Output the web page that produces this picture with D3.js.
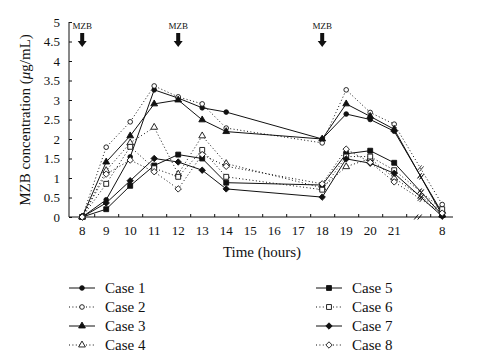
<!DOCTYPE html>
<html>
<head>
<meta charset="utf-8">
<script src="https://cdn.jsdelivr.net/npm/d3@7"></script>
<style>
  body { margin: 0; background: #fff; }
  svg text { font-family: "Liberation Serif", "DejaVu Serif", serif; fill: #111; }
</style>
</head>
<body>
<div id="chart"></div>
<script>
// hour labels and their positions on the axis (gap before the next-morning 8)
const tickLabels = ["8", "9", "10", "11", "12", "13", "14", "15", "16", "17", "18", "19", "20", "21", "8"];
const tickPos = [0, 1, 2, 3, 4, 5, 6, 7, 8, 9, 10, 11, 12, 13, 15];
const samplePos = [0, 1, 2, 3, 4, 5, 6, 10, 11, 12, 13, 15];
const dosePos = [0, 4, 10];

const case1 = [0, 0.44, 1.54, 3.26, 3.05, 2.8, 2.69, 2.0, 2.64, 2.5, 2.2, 0.1];
const case2 = [0, 1.79, 2.44, 3.36, 3.08, 2.9, 2.28, 1.9, 3.26, 2.68, 2.38, 0.32];
const case3 = [0, 1.41, 2.08, 2.9, 3.0, 2.49, 2.19, 2.0, 2.9, 2.58, 2.25, 0.05];
const case4 = [0, 1.19, 1.9, 2.3, 1.1, 2.08, 1.37, 0.75, 1.29, 1.5, 1.0, 0.15];
const case5 = [0, 0.2, 0.8, 1.32, 1.6, 1.5, 0.88, 0.82, 1.62, 1.7, 1.39, 0.05];
const case6 = [0, 0.85, 1.8, 1.25, 1.03, 1.72, 1.03, 0.7, 1.55, 1.55, 1.2, 0.2];
const case7 = [0, 0.36, 0.93, 1.5, 1.41, 1.2, 0.72, 0.51, 1.49, 1.38, 1.12, 0.02];
const case8 = [0, 1.1, 1.46, 1.16, 0.72, 1.6, 1.3, 0.85, 1.74, 1.4, 0.9, 0.1];

const caseNames = ["Case 1", "Case 2", "Case 3", "Case 4", "Case 5", "Case 6", "Case 7", "Case 8"];
const caseValues = [case1, case2, case3, case4, case5, case6, case7, case8];
const yTicks = [0, 0.5, 1, 1.5, 2, 2.5, 3, 3.5, 4, 4.5, 5];

const width = 478, height = 361;
const ink = "#111";

const svg = d3.select("#chart").append("svg")
  .attr("width", width)
  .attr("height", height);

const x = d3.scaleLinear().domain([-0.55, 15.45]).range([69, 453]);
const y = d3.scaleLinear().domain([0, 5]).range([217, 22]);

// marker shapes per case
function markerPath(i) {
  const kind = Math.floor(i / 2);
  if (kind === 0) return d3.symbol(d3.symbolCircle, 17)();
  if (kind === 1) return d3.symbol(d3.symbolTriangle, 20)();
  if (kind === 2) return d3.symbol(d3.symbolSquare, 24)();
  return "M0,-3.2L3.2,0L0,3.2L-3.2,0Z";
}
const filled = (i) => i % 2 === 0;

// axes
const xAxis = d3.axisBottom(x)
  .tickValues(d3.range(0.5, 15, 1))
  .tickSize(-3)
  .tickFormat("");
const gx = svg.append("g")
  .attr("transform", `translate(0,${y(0)})`)
  .call(xAxis);
gx.select(".domain").attr("d", `M${x(-0.55)},0H${x(15.45)}`);
gx.selectAll("line, path").attr("stroke", ink);

svg.append("g").selectAll("text")
  .data(tickPos)
  .join("text")
  .attr("x", (d) => x(d))
  .attr("y", 235)
  .attr("text-anchor", "middle")
  .attr("font-size", 13)
  .text((d, i) => tickLabels[i]);

// axis break
svg.append("g").selectAll("line")
  .data([-2, 1.5])
  .join("line")
  .attr("x1", (d) => x(14) + d - 2)
  .attr("y1", y(0) + 2.5)
  .attr("x2", (d) => x(14) + d + 2)
  .attr("y2", y(0) - 2.5)
  .attr("stroke", ink)
  .attr("stroke-width", 1);

const yAxis = d3.axisLeft(y)
  .tickValues(yTicks)
  .tickSize(-3)
  .tickPadding(9)
  .tickFormat((d) => d);
const gy = svg.append("g")
  .attr("transform", `translate(${x(-0.55)},0)`)
  .call(yAxis);
gy.select(".domain").attr("d", `M0,${y(0)}V${y(5)}`);
gy.selectAll("line, path").attr("stroke", ink);
gy.selectAll("text")
  .attr("font-size", 13)
  .attr("fill", ink)
  .style("font-family", "Liberation Serif, serif");

// axis titles
const yTitle = svg.append("text")
  .attr("transform", `translate(30,120) rotate(-90)`)
  .attr("text-anchor", "middle")
  .attr("font-size", 15);
yTitle.append("tspan").text("MZB concentration (");
yTitle.append("tspan").attr("font-style", "italic").text("μ");
yTitle.append("tspan").text("g/mL)");

svg.append("text")
  .attr("x", 262)
  .attr("y", 257)
  .attr("text-anchor", "middle")
  .attr("font-size", 15)
  .text("Time (hours)");

// dose markers
const dose = svg.append("g").selectAll("g")
  .data(dosePos)
  .join("g")
  .attr("transform", (d) => `translate(${x(d)},0)`);
dose.append("text")
  .attr("y", 29)
  .attr("text-anchor", "middle")
  .attr("font-size", 9)
  .text("MZB");
dose.append("path")
  .attr("d", "M-2,33H2V41H4.5L0,47L-4.5,41H-2Z")
  .attr("fill", ink);

// series lines
const line = d3.line()
  .x((d) => x(d[0]))
  .y((d) => y(d[1]));

const series = caseValues.map((vals, i) => ({
  name: caseNames[i],
  idx: i,
  points: vals.map((v, j) => [samplePos[j], v])
}));

svg.append("g").selectAll("path")
  .data(series)
  .join("path")
  .attr("d", (d) => line(d.points))
  .attr("fill", "none")
  .attr("stroke", ink)
  .attr("stroke-width", 1)
  .attr("stroke-dasharray", (d) => (filled(d.idx) ? null : "1,2.4"));

// little break slashes on each line between 21 and the next morning
svg.append("g").selectAll("path")
  .data(series)
  .join("path")
  .attr("d", (d) => {
    const a = d.points[10], b = d.points[11];
    const t = 0.55;
    const px = x(a[0] + (b[0] - a[0]) * t);
    const py = y(a[1] + (b[1] - a[1]) * t);
    return `M${px - 3},${py + 2}L${px + 1},${py - 3}M${px - 1},${py + 3}L${px + 3},${py - 2}`;
  })
  .attr("stroke", ink)
  .attr("stroke-width", 0.8)
  .attr("fill", "none");

// markers
svg.append("g").selectAll("g")
  .data(series)
  .join("g")
  .each(function (s) {
    d3.select(this).selectAll("path")
      .data(s.points)
      .join("path")
      .attr("transform", (d) => `translate(${x(d[0])},${y(d[1])})`)
      .attr("d", markerPath(s.idx))
      .attr("fill", filled(s.idx) ? ink : "#fff")
      .attr("stroke", ink)
      .attr("stroke-width", 0.9);
  });

// legend
const legend = svg.append("g").selectAll("g")
  .data(series)
  .join("g")
  .attr("transform", (d) => {
    const col = d.idx < 4 ? 69 : 316;
    const row = d.idx % 4;
    return `translate(${col},${288 + row * 19})`;
  });
legend.append("line")
  .attr("x1", 0)
  .attr("x2", 26)
  .attr("stroke", ink)
  .attr("stroke-width", 1)
  .attr("stroke-dasharray", (d) => (filled(d.idx) ? null : "1,2.4"));
legend.append("path")
  .attr("transform", "translate(13,0)")
  .attr("d", (d) => markerPath(d.idx))
  .attr("fill", (d) => (filled(d.idx) ? ink : "#fff"))
  .attr("stroke", ink)
  .attr("stroke-width", 0.9);
legend.append("text")
  .attr("x", 36)
  .attr("y", 5)
  .attr("font-size", 15)
  .text((d) => d.name);
</script>
</body>
</html>
